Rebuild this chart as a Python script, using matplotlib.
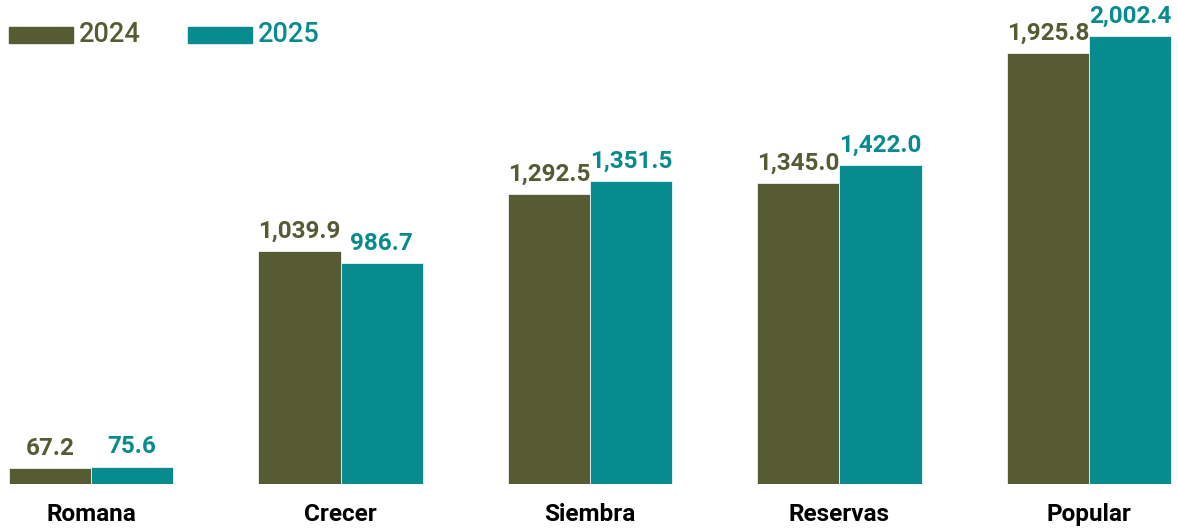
import matplotlib.pyplot as plt
import matplotlib.patches as mpatches
import numpy as np

plt.rcParams['font.family'] = ['Roboto', 'DejaVu Sans']

categories = ['Romana', 'Crecer', 'Siembra', 'Reservas', 'Popular']
years = ['2024', '2025']
values_2024 = [67.2, 1039.9, 1292.5, 1345.0, 1925.8]
values_2025 = [75.6, 986.7, 1351.5, 1422.0, 2002.4]

c24 = '#575b34'
c25 = '#088b8f'

W, H = 1178, 531
fig = plt.figure(figsize=(W / 100, H / 100), dpi=100)
ax = fig.add_axes([0, 47.5 / H, 1, 1 - 47.5 / H])

x = np.arange(len(categories))
bw = 0.329
ax.bar(x - bw / 2, values_2024, bw, color=c24, edgecolor='white', linewidth=0.5)
ax.bar(x + bw / 2, values_2025, bw, color=c25, edgecolor='white', linewidth=0.5)

ax.set_xlim(-0.365, 4.357)
ax.set_ylim(0, 2162)
ax.axis('off')

def fmt(v):
    return f'{v:,.1f}'

for xi, v in zip(x, values_2024):
    ax.annotate(fmt(v), (xi - bw / 2, v), xytext=(0, 6), textcoords='offset points',
                ha='center', va='bottom', fontsize=17.5, fontweight='bold', color=c24)
for xi, v in zip(x, values_2025):
    ax.annotate(fmt(v), (xi + bw / 2, v), xytext=(0, 6), textcoords='offset points',
                ha='center', va='bottom', fontsize=17.5, fontweight='bold', color=c25)

for xi, name in zip(x, categories):
    ax.annotate(name, (xi, 0), xytext=(0, -22), textcoords='offset points',
                ha='center', va='center', fontsize=17.5, fontweight='bold', color='black')

# legend drawn by hand
for x0, col, lab in [(9, c24, years[0]), (188, c25, years[1])]:
    fig.patches.append(mpatches.Rectangle((x0 / W, (H - 42.7) / H), 64 / W, 16 / H,
                                          transform=fig.transFigure, color=col))
    fig.text((x0 + 70) / W, (H - 34) / H, lab, ha='left', va='center',
             fontsize=19.5, fontweight='medium', color=col)

fig.savefig('out.png', dpi=100)
